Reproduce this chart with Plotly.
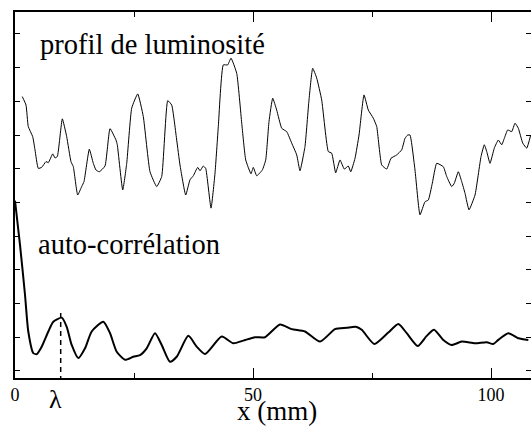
import plotly.graph_objects as go

# Luminosity profile (x in mm, arbitrary units)
lum_x = [1.53, 2.31, 2.79, 3.72, 4.20, 4.89, 5.61, 6.51, 7.00, 7.92, 8.40, 8.89, 9.94, 10.86,
         11.76, 12.25, 13.17, 14.01, 14.50, 15.61, 16.45, 17.02, 17.71, 18.91, 19.96, 21.22,
         21.49, 22.63, 23.47, 24.52, 25.78, 26.95, 28.36, 29.77, 30.82, 32.08, 32.92, 33.97,
         34.66, 35.86, 36.76, 37.46, 38.38, 38.87, 39.56, 40.06, 41.18, 42.02, 42.71, 43.76,
         44.68, 45.38, 46.58, 47.63, 48.47, 49.58, 50.06, 50.78, 51.95, 52.67, 53.36, 54.14,
         54.98, 56.03, 57.08, 58.13, 59.18, 59.87, 60.92, 61.76, 62.54, 63.38, 64.43, 65.82,
         66.53, 67.37, 68.28, 69.18, 70.02, 70.53, 71.43, 72.27, 73.32, 74.22, 75.27, 75.99,
         77.04, 78.09, 78.99, 80.19, 81.24, 81.93, 82.50, 82.98, 84.03, 85.08, 86.13, 86.83,
         87.67, 88.59, 89.98, 90.69, 91.74, 92.29, 93.13, 93.84, 94.54, 95.38, 96.64, 97.90,
         98.59, 99.10, 99.79, 100.69, 101.53, 102.25, 102.79, 103.51, 104.35, 105.04, 105.74,
         106.66, 107.50, 108.34]
lum_y = [8.14, 7.89, 7.25, 6.95, 6.56, 6.01, 6.04, 6.21, 6.18, 6.44, 6.32, 6.36, 7.48, 6.95,
         6.21, 6.06, 5.22, 5.47, 5.62, 6.58, 6.16, 5.96, 5.91, 6.08, 7.19, 6.85,
         6.71, 5.37, 6.16, 7.80, 8.22, 7.55, 5.91, 5.47, 5.77, 8.02, 7.89, 6.85,
         6.11, 5.22, 5.67, 5.79, 6.04, 5.94, 6.08, 6.01, 4.83, 5.87, 7.25, 9.08,
         9.08, 9.28, 8.83, 7.35, 6.26, 5.85, 6.04, 5.79, 5.96, 6.26, 7.40, 8.09,
         7.74, 7.20, 7.10, 6.76, 6.41, 5.94, 6.66, 8.04, 8.98, 8.69, 8.04, 6.51,
         6.46, 5.88, 6.26, 5.99, 6.08, 5.91, 6.31, 7.00, 8.19, 7.74, 7.50, 7.25,
         6.11, 5.99, 6.31, 6.41, 6.56, 6.90, 7.00, 7.00, 5.96, 4.63, 5.02, 5.07,
         5.57, 6.16, 6.06, 5.77, 5.47, 5.57, 5.91, 5.62, 5.27, 4.78, 5.22, 6.36,
         6.71, 6.51, 6.16, 6.61, 6.85, 6.71, 6.90, 7.15, 7.10, 7.35, 7.20,
         6.76, 6.61, 7.00]

# Auto-correlation
ac_x = [0.00, 1.05, 2.10, 2.79, 3.84, 4.56, 5.61, 7.00, 8.05, 9.81, 10.86, 11.91, 13.30, 14.71,
        16.11, 18.55, 19.96, 21.37, 23.11, 24.85, 26.26, 27.67, 29.41, 30.82, 32.56, 33.97,
        36.41, 38.17, 39.92, 43.42, 45.86, 47.96, 50.42, 52.52, 55.67, 58.13, 60.92, 64.08,
        67.23, 69.69, 71.58, 72.84, 75.48, 78.42, 80.53, 82.29, 84.60, 86.49, 88.03, 89.98,
        91.74, 93.84, 96.64, 99.10, 100.48, 101.53, 103.63, 105.74, 107.84]
ac_y = [5.05, 3.74, 2.26, 1.17, 0.53, 0.50, 0.72, 1.17, 1.46, 1.58, 1.31, 0.77, 0.38, 0.67,
        1.17, 1.46, 1.12, 0.57, 0.33, 0.42, 0.47, 0.67, 1.12, 0.77, 0.27, 0.42,
        1.04, 0.72, 0.50, 1.02, 0.82, 0.90, 1.00, 1.00, 1.38, 1.24, 1.17, 0.87,
        1.24, 1.28, 1.31, 1.22, 0.80, 1.14, 1.39, 1.12, 0.74, 1.04, 1.22, 0.92,
        0.77, 0.87, 0.82, 0.85, 0.80, 0.92, 1.12, 0.97, 0.92]

lambda_x = 9.6
lambda_top = 1.72

x_range = [0, 108.4]
y_range = [-0.21, 10.65]
x_major = [0, 50, 100]
x_major_labels = ["0", "50", "100"]
x_minor = [25, 75]

FONT = "Liberation Serif"

fig = go.Figure()
fig.add_trace(go.Scatter(x=lum_x, y=lum_y, mode="lines",
                         line=dict(color="black", width=1, shape="spline", smoothing=0.4),
                         hoverinfo="skip"))
fig.add_trace(go.Scatter(x=ac_x, y=ac_y, mode="lines",
                         line=dict(color="black", width=2, shape="spline", smoothing=0.6),
                         hoverinfo="skip"))
fig.add_trace(go.Scatter(x=[lambda_x, lambda_x], y=[lambda_top, y_range[0]], mode="lines",
                         line=dict(color="black", width=1.5, dash="5px,4px"), hoverinfo="skip"))

# plot area: 516 x 366 px
fig.add_annotation(xref="paper", yref="paper", x=(38 - 15) / 516, y=(378 - 45) / 366,
                   text="profil de luminosité", showarrow=False, xanchor="left", yanchor="middle",
                   font=dict(family=FONT, size=28.5, color="black"))
fig.add_annotation(xref="paper", yref="paper", x=(36 - 15) / 516, y=(378 - 245) / 366,
                   text="auto-corrélation", showarrow=False, xanchor="left", yanchor="middle",
                   font=dict(family=FONT, size=28.5, color="black"))
fig.add_annotation(xref="paper", yref="paper", x=(55 - 15) / 516, y=(378 - 399) / 366,
                   text="λ", showarrow=False, xanchor="center", yanchor="middle",
                   font=dict(family=FONT, size=26, color="black"))
fig.add_annotation(xref="paper", yref="paper", x=(277 - 15) / 516, y=(378 - 427) / 366,
                   text="x (mm)", showarrow=False, xanchor="center", yanchor="bottom",
                   borderpad=0, font=dict(family=FONT, size=27, color="black"))

fig.update_layout(
    width=531, height=428,
    margin=dict(l=15, r=0, t=12, b=50),
    paper_bgcolor="white", plot_bgcolor="white",
    showlegend=False,
    font=dict(family=FONT, color="black"),
    xaxis=dict(range=x_range, showgrid=False, zeroline=False, showline=True, mirror="ticks",
               linecolor="black", linewidth=1.5, ticks="inside", ticklen=10, tickwidth=1,
               tickcolor="black", tickvals=x_major, ticktext=x_major_labels,
               tickfont=dict(family=FONT, size=18, color="black"), automargin=False,
               minor=dict(tickvals=x_minor, ticks="inside", ticklen=5, tickcolor="black", tickwidth=1)),
    yaxis=dict(range=y_range, showgrid=False, zeroline=False, showline=True, mirror="ticks",
               linecolor="black", linewidth=1.5, ticks="inside", ticklen=5, tickwidth=1,
               tickcolor="black", dtick=1, tick0=0, showticklabels=False, automargin=False),
)

fig.write_html("out.html", config={"displayModeBar": False},
               post_script="document.body.style.margin='0';document.body.style.overflow='hidden';")
